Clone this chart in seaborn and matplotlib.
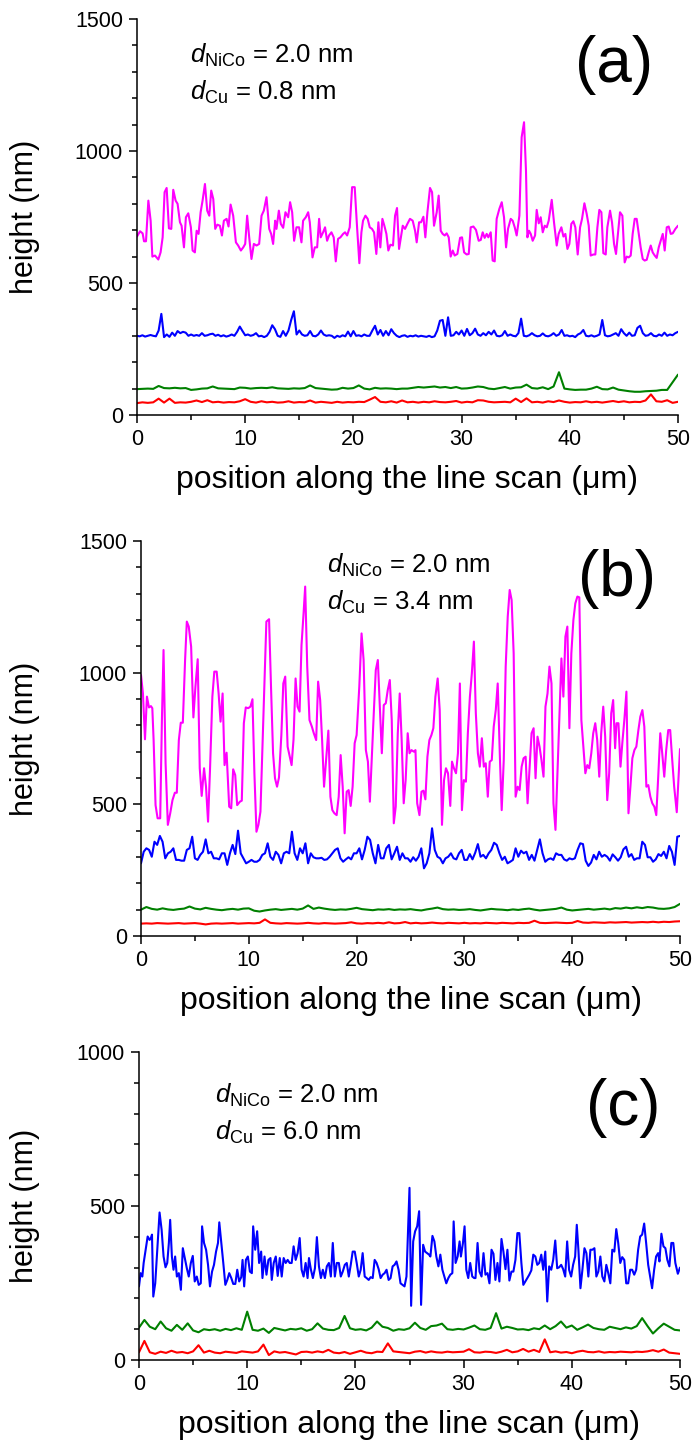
import numpy as np
import pandas as pd
import seaborn as sns
import matplotlib
matplotlib.use("Agg")
import matplotlib.pyplot as plt
from matplotlib.ticker import MultipleLocator

sns.set_theme(style="ticks")
plt.rcParams['font.family'] = ['Liberation Sans', 'DejaVu Sans']
plt.rcParams['mathtext.fontset'] = 'custom'
plt.rcParams['mathtext.rm'] = 'Liberation Sans'
plt.rcParams['mathtext.it'] = 'Liberation Sans:italic'
plt.rcParams['text.color'] = 'black'
plt.rcParams['axes.labelcolor'] = 'black'
plt.rcParams['xtick.color'] = 'black'
plt.rcParams['ytick.color'] = 'black'

# ---------------- panel (a) ----------------
a_mag_x = [0.00,0.28,0.52,0.65,0.83,1.05,1.26,1.42,1.66,1.97,2.18,2.37,2.55,2.74,2.95,3.17,3.35,3.57,3.75,3.97,
           4.12,4.34,4.52,4.74,4.98,5.14,5.35,5.51,5.69,5.88,6.06,6.28,6.49,6.68,6.86,7.05,7.23,7.42,7.66,7.85,
           8.03,8.28,8.46,8.65,8.89,9.14,9.35,9.60,9.82,10.00,10.18,10.37,10.58,10.80,11.05,11.29,11.51,11.72,11.97,12.22,
           12.40,12.58,12.77,12.89,13.11,13.29,13.51,13.72,13.97,14.15,14.34,14.52,14.74,14.98,15.20,15.35,15.60,15.82,15.97,16.22,
           16.43,16.65,16.83,16.98,17.20,17.38,17.57,17.75,17.97,18.18,18.37,18.58,18.80,19.05,19.23,19.42,19.66,19.88,20.12,20.34,
           20.55,20.74,20.89,21.11,21.32,21.51,21.72,21.91,22.12,22.31,22.49,22.68,22.86,23.05,23.23,23.42,23.66,23.85,24.03,24.22,
           24.56,24.77,24.99,25.23,25.48,25.70,25.85,26.07,26.25,26.47,26.65,26.84,27.08,27.27,27.45,27.70,27.88,28.07,28.25,28.44,
           28.62,28.81,28.99,29.18,29.36,29.61,29.86,30.04,30.23,30.47,30.66,30.84,31.09,31.33,31.58,31.77,31.95,32.13,32.32,32.47,
           32.69,32.87,33.06,33.24,33.49,33.71,33.92,34.11,34.29,34.54,34.72,34.91,35.09,35.34,35.55,35.77,35.95,36.08,36.23,36.39,
           36.57,36.79,36.94,37.13,37.31,37.50,37.68,37.87,38.05,38.33,38.54,38.79,38.97,39.22,39.41,39.59,39.78,39.96,40.14,40.33,
           40.51,40.73,40.95,41.13,41.35,41.56,41.75,41.93,42.18,42.36,42.55,42.73,42.92,43.10,43.32,43.47,43.72,43.90,44.09,44.27,
           44.46,44.64,44.86,45.07,45.26,45.44,45.63,45.81,46.00,46.18,46.37,46.55,46.74,46.92,47.11,47.29,47.48,47.66,47.85,48.03,
           48.22,48.40,48.59,48.77,48.96,49.14,49.33,49.51,49.76,50.00]
a_mag_y = [676,696,688,658,658,812,736,600,604,589,616,673,844,860,707,705,853,812,800,730,
           717,635,749,764,711,623,616,698,686,768,812,875,774,755,850,818,705,721,717,680,
           736,743,714,797,755,654,642,623,635,648,755,673,591,648,642,648,755,774,825,705,
           686,648,736,705,774,724,709,768,749,806,768,660,711,711,654,736,749,768,730,597,
           635,635,743,673,692,711,660,680,692,673,582,667,673,686,692,680,711,863,863,711,
           575,692,736,755,743,711,705,692,610,730,635,743,717,686,623,645,642,755,784,629,
           717,705,724,743,736,698,654,730,730,751,673,768,860,844,717,768,831,698,686,680,
           688,673,600,623,604,610,671,673,616,608,610,711,714,701,660,663,692,671,686,673,
           692,585,582,743,781,806,749,635,705,743,736,711,680,755,1052,1109,926,673,698,686,
           660,680,777,726,749,692,717,711,736,815,730,642,686,711,676,686,629,648,724,734,
           711,608,711,743,802,762,717,604,608,608,711,777,768,613,608,711,774,730,648,610,
           692,768,755,578,600,597,604,686,743,743,686,635,591,585,588,616,642,616,604,595,
           635,660,686,623,711,714,686,688,705,717]

a_blue_y = [300,298,302,297,300,303,300,298,320,383,295,305,296,312,300,318,310,315,312,300,
            305,300,303,300,310,300,302,306,308,300,304,298,302,297,300,305,300,315,335,318,
            302,305,300,303,310,298,300,295,300,315,340,325,300,296,318,300,320,360,393,305,
            320,305,300,302,318,300,298,305,320,305,300,302,300,292,300,296,302,298,316,298,
            318,300,302,298,305,300,300,320,338,305,322,300,318,302,325,310,300,295,300,302,
            296,300,298,302,297,300,298,296,300,295,298,320,357,360,300,370,300,302,315,305,
            320,300,326,302,310,327,305,300,310,302,315,305,320,300,298,302,318,300,305,300,
            298,310,365,300,298,302,310,302,298,300,309,300,298,302,310,300,305,322,300,302,
            298,300,295,305,310,322,300,298,302,297,300,305,360,302,298,300,305,310,300,325,
            310,300,312,300,302,330,338,310,300,302,310,300,298,305,300,312,300,305,302,310,
            315]

a_green_y = [98,99,100,99,110,102,101,103,101,102,95,97,100,101,108,101,100,99,98,104,
             103,100,102,103,102,105,101,100,99,101,100,102,112,102,100,98,96,97,103,100,
             102,112,100,97,103,100,101,100,98,100,100,103,106,104,106,108,104,106,102,106,
             100,101,104,108,106,100,98,102,106,100,104,105,115,102,100,105,98,108,162,100,
             97,95,96,96,100,107,98,97,104,96,93,90,88,88,90,91,92,95,95,124,
             153]

a_red_y = [45,48,46,48,62,47,62,46,48,47,50,55,49,56,48,50,47,49,48,52,
           60,50,47,52,48,50,47,48,52,47,49,48,55,47,50,48,46,50,47,49,
           48,50,49,58,68,50,48,52,47,55,48,50,47,50,48,52,49,48,50,53,
           47,50,48,56,55,50,48,49,50,48,62,49,63,48,50,47,52,49,55,50,
           47,49,48,52,48,50,47,50,53,49,52,48,50,49,55,78,52,50,56,46,
           50]

# ---------------- panel (b) ----------------
b_mag_x = [0.00,0.18,0.37,0.55,0.74,0.92,1.05,1.17,1.35,1.54,1.78,1.94,2.09,2.28,2.49,2.71,2.92,3.14,3.32,3.51,
           3.69,3.88,4.09,4.25,4.43,4.65,4.86,5.05,5.26,5.45,5.63,5.85,6.03,6.22,6.40,6.62,6.80,7.02,7.20,7.38,
           7.57,7.75,7.94,8.18,8.37,8.55,8.74,8.92,9.17,9.35,9.54,9.72,9.94,10.15,10.34,10.52,10.71,10.89,11.08,11.26,
           11.45,11.63,11.88,12.06,12.25,12.43,12.62,12.80,13.02,13.20,13.38,13.60,13.78,13.97,14.15,14.34,14.52,14.71,14.89,15.08,
           15.23,15.42,15.63,15.85,16.03,16.25,16.43,16.62,16.80,16.98,17.17,17.38,17.57,17.75,17.94,18.15,18.34,18.52,18.71,18.89,
           19.08,19.26,19.45,19.63,19.82,20.00,20.25,20.46,20.65,20.86,21.05,21.23,21.42,21.60,21.78,21.97,22.15,22.34,22.52,22.71,
           22.89,23.08,23.26,23.45,23.63,23.82,24.00,24.18,24.37,24.55,24.74,24.91,25.09,25.31,25.46,25.62,25.83,26.02,26.20,26.38,
           26.57,26.75,26.94,27.12,27.31,27.52,27.71,27.92,28.11,28.29,28.48,28.69,28.85,29.03,29.22,29.40,29.58,29.77,29.95,30.14,
           30.32,30.51,30.69,30.88,31.06,31.25,31.43,31.62,31.80,31.98,32.17,32.35,32.54,32.72,32.91,33.09,33.31,33.46,33.65,33.83,
           34.02,34.20,34.38,34.57,34.75,34.94,35.12,35.31,35.49,35.68,35.86,36.05,36.23,36.42,36.60,36.78,36.97,37.15,37.34,37.52,
           37.71,37.89,38.08,38.26,38.45,38.63,38.82,39.00,39.18,39.37,39.55,39.74,39.92,40.11,40.29,40.48,40.66,40.85,41.03,41.22,
           41.40,41.58,41.77,41.95,42.14,42.32,42.51,42.69,42.88,43.06,43.25,43.43,43.62,43.80,43.98,44.11,44.29,44.48,44.66,44.85,
           45.03,45.22,45.40,45.58,45.77,45.95,46.14,46.32,46.51,46.69,46.88,47.06,47.25,47.43,47.62,47.80,47.98,48.17,48.35,48.54,
           48.72,48.91,49.09,49.28,49.46,49.70,50.00]
b_mag_y = [991,921,747,909,868,873,865,744,497,447,447,820,1086,656,422,466,516,544,544,744,
           810,810,1048,1194,1175,1099,830,947,1051,637,532,637,567,434,630,909,1004,1004,921,814,
           921,649,696,491,485,633,611,497,510,514,808,868,865,871,899,618,396,422,472,713,
           959,1194,1203,947,694,599,567,602,763,959,985,719,684,649,747,978,871,852,1105,1225,
           1327,1023,820,795,770,744,966,896,744,567,668,780,529,478,466,459,529,687,567,390,
           548,554,494,567,732,763,947,1149,1048,706,662,510,687,852,1010,1048,871,694,877,884,
           934,972,820,428,491,770,921,744,504,592,770,694,706,700,706,504,459,548,552,519,
           681,744,763,789,909,978,858,422,592,637,618,494,662,637,618,694,959,478,592,586,
           770,909,997,1118,846,694,643,751,643,656,529,662,668,795,858,959,656,478,668,1023,
           1213,1314,1276,1073,529,567,554,643,675,681,504,643,770,789,599,757,719,668,605,871,
           921,1023,959,504,403,618,846,1054,909,1137,1175,789,1073,1200,1263,1289,1286,820,719,618,
           649,637,694,770,808,744,605,770,871,757,516,618,846,896,713,808,808,643,738,827,
           928,466,567,675,706,719,782,833,858,795,567,573,529,504,491,459,605,770,694,605,
           706,782,782,668,567,470,710]

b_blue_y = [276,320,333,327,301,358,346,380,358,295,314,320,333,289,289,286,286,327,333,377,
            295,289,308,320,367,314,320,295,295,291,314,314,270,314,346,311,400,314,295,276,
            282,289,282,282,289,308,314,352,301,289,320,308,276,314,320,314,396,314,289,333,
            314,352,276,314,299,295,295,297,289,291,301,314,327,333,295,282,291,299,291,314,
            314,333,291,327,377,365,314,276,346,295,295,333,346,291,314,339,289,314,295,295,
            282,299,286,301,333,257,276,314,409,327,301,295,276,295,301,314,295,291,314,327,
            289,289,311,291,316,349,301,308,295,314,327,354,346,314,289,301,276,282,289,333,
            301,324,314,320,289,308,286,327,367,314,282,291,295,289,314,308,308,291,286,295,
            291,295,327,352,349,286,266,279,308,291,320,301,308,301,286,310,299,286,299,329,
            339,301,311,289,295,295,358,346,299,299,282,291,311,304,320,295,342,320,270,377,
            380]

b_green_y = [100,110,103,100,105,101,99,102,104,112,104,101,107,103,100,98,101,103,100,104,
             105,96,93,97,100,102,99,101,103,100,104,116,103,108,104,101,99,101,100,103,
             107,102,100,98,101,100,102,99,101,100,102,99,97,101,104,108,102,100,101,99,
             100,102,99,97,100,103,101,100,98,101,99,102,104,100,97,99,101,103,108,100,
             97,99,101,103,100,102,104,101,106,104,108,105,109,106,110,108,104,103,105,110,
             122]

b_red_y = [47,48,47,49,48,47,48,49,47,48,49,47,44,47,48,47,48,49,47,48,
           49,48,50,63,50,48,47,49,48,47,48,50,48,47,49,48,47,48,49,52,
           48,47,49,48,50,48,52,48,49,53,48,50,48,49,51,49,48,50,49,48,
           50,48,49,48,50,49,48,50,49,48,50,49,50,58,50,49,50,51,50,49,
           50,57,51,50,52,51,50,52,51,52,53,51,52,53,52,54,52,54,53,55,
           56]

# ---------------- panel (c) ----------------
c_blue_x = [0.00,0.15,0.31,0.43,0.61,0.80,0.98,1.10,1.20,1.32,1.50,1.69,1.90,2.09,2.27,2.45,2.61,2.76,2.88,3.04,
            3.19,3.34,3.50,3.68,3.87,4.05,4.23,4.42,4.60,4.79,4.97,5.15,5.34,5.52,5.71,5.83,6.01,6.20,6.38,6.56,
            6.75,6.93,7.12,7.30,7.42,7.61,7.79,7.98,8.16,8.34,8.53,8.71,8.90,9.08,9.26,9.45,9.57,9.72,9.88,10.06,
            10.25,10.43,10.55,10.74,10.92,11.10,11.29,11.41,11.60,11.78,11.96,12.15,12.27,12.45,12.64,12.82,13.01,13.19,13.37,13.56,
            13.74,13.93,14.11,14.29,14.48,14.66,14.85,15.03,15.21,15.40,15.58,15.71,15.89,16.07,16.26,16.44,16.63,16.81,16.99,17.18,
            17.36,17.55,17.73,17.91,18.10,18.28,18.47,18.65,18.83,19.02,19.20,19.39,19.57,19.75,19.94,20.12,20.31,20.49,20.67,20.86,
            21.04,21.23,21.41,21.60,21.78,21.96,22.15,22.33,22.52,22.70,22.88,23.07,23.25,23.44,23.62,23.80,23.99,24.17,24.36,24.54,
            24.72,25.00,25.15,25.34,25.52,25.71,25.89,26.07,26.26,26.44,26.63,26.81,26.93,27.12,27.30,27.48,27.67,27.85,28.04,28.22,
            28.40,28.59,28.77,28.96,29.08,29.26,29.45,29.63,29.75,29.94,30.09,30.25,30.43,30.61,30.80,30.98,31.10,31.29,31.47,31.66,
            31.84,32.02,32.21,32.39,32.58,32.76,32.94,33.13,33.31,33.50,33.68,33.87,34.05,34.23,34.42,34.60,34.79,34.97,35.15,35.34,
            35.52,35.71,35.89,36.07,36.26,36.44,36.63,36.81,36.99,37.18,37.36,37.55,37.73,37.91,38.10,38.28,38.47,38.65,38.83,39.02,
            39.20,39.39,39.57,39.75,39.94,40.12,40.31,40.46,40.61,40.80,40.98,41.17,41.35,41.53,41.72,41.90,42.09,42.27,42.45,42.64,
            42.82,43.01,43.19,43.37,43.56,43.74,43.93,44.11,44.29,44.48,44.66,44.85,45.03,45.21,45.40,45.58,45.77,45.95,46.13,46.32,
            46.50,46.69,46.87,47.06,47.24,47.42,47.61,47.79,47.98,48.10,48.28,48.47,48.65,48.83,49.02,49.20,49.38,49.57,49.80,50.00]
c_blue_y = [239,282,271,315,358,401,390,396,407,206,249,358,479,423,336,301,315,380,455,336,
            293,336,271,282,228,363,331,298,271,315,338,255,271,244,249,434,380,358,309,239,
            287,309,352,380,447,380,315,244,260,282,266,247,247,293,255,269,325,239,325,336,
            287,282,434,358,418,315,352,266,336,277,325,331,260,315,336,273,331,271,331,315,
            325,315,315,369,325,347,396,293,271,315,266,331,293,266,298,399,304,266,293,266,
            304,315,271,380,271,315,315,271,287,309,315,271,309,352,352,315,271,293,347,271,
            266,260,269,266,325,315,295,266,277,282,293,260,266,304,309,320,293,249,244,239,
            271,559,176,385,418,434,483,179,374,352,347,342,336,403,385,336,304,342,293,271,
            249,266,277,282,450,315,336,385,336,380,434,293,266,315,271,266,266,380,287,271,
            347,277,282,249,358,345,260,315,255,393,352,295,358,258,287,287,325,412,412,315,
            244,255,266,277,291,342,336,309,315,342,293,352,190,304,293,325,388,298,301,309,
            295,271,385,293,271,309,336,439,358,233,293,363,347,271,358,358,363,271,287,336,
            271,255,309,282,249,358,352,425,380,315,334,325,249,249,293,293,277,293,358,401,
            407,443,380,309,271,233,293,336,347,320,410,369,363,325,304,380,380,315,280,300]

c_green_y = [105,130,108,100,125,103,95,114,98,119,96,90,100,97,100,95,101,97,103,98,
             157,98,95,102,88,104,100,96,101,99,103,95,100,119,102,98,97,104,143,103,
             98,100,96,105,125,108,104,95,100,98,103,121,104,98,110,112,118,100,98,101,
             99,105,112,100,98,104,152,102,108,104,99,100,97,103,100,112,100,110,125,105,
             112,98,106,115,104,100,98,108,104,100,106,102,110,136,110,86,103,118,108,98,
             96]

c_red_y = [25,62,25,20,27,23,30,24,26,22,28,48,24,30,24,22,27,25,23,28,
           26,24,28,50,16,28,24,26,22,18,26,27,24,28,25,33,24,22,26,20,
           25,30,24,22,27,26,54,28,26,24,22,27,29,24,28,25,24,27,25,26,
           27,35,25,24,27,26,23,27,33,25,28,36,27,33,26,67,25,28,24,26,
           22,27,30,26,25,28,24,26,25,27,26,25,27,26,28,32,27,34,24,22,
           20]

MAG, BLUE, GREEN, RED = '#FF00FF', '#0000FF', '#008000', '#FF0000'
W, H = 694, 1443

fig = plt.figure(figsize=(W / 100, H / 100), dpi=100)


def px_axes(left, top, right, bottom):
    return fig.add_axes([left / W, 1 - bottom / H, (right - left) / W, (bottom - top) / H])


def grid(vals):
    return np.linspace(0, 50, len(vals))


panels = [
    dict(box=(137, 19, 678, 415), ymax=1500,
         lines=[(grid(a_red_y), a_red_y, RED), (grid(a_green_y), a_green_y, GREEN),
                (grid(a_blue_y), a_blue_y, BLUE), (a_mag_x, a_mag_y, MAG)],
         txt=(190, 63, 100), cu='0.8', lab='(a)', labxy=(653, 82)),
    dict(box=(141, 541, 680, 936), ymax=1500,
         lines=[(grid(b_red_y), b_red_y, RED), (grid(b_green_y), b_green_y, GREEN),
                (grid(b_blue_y), b_blue_y, BLUE), (b_mag_x, b_mag_y, MAG)],
         txt=(327, 573, 610), cu='3.4', lab='(b)', labxy=(656, 596)),
    dict(box=(139, 1052, 680, 1360), ymax=1000,
         lines=[(grid(c_red_y), c_red_y, RED), (grid(c_green_y), c_green_y, GREEN),
                (c_blue_x, c_blue_y, BLUE)],
         txt=(215, 1103, 1140), cu='6.0', lab='(c)', labxy=(660, 1125)),
]

for p in panels:
    l, t, r, b = p['box']
    ax = px_axes(l, t, r, b)
    for xs, ys, col in p['lines']:
        df = pd.DataFrame({'x': np.asarray(xs, float), 'y': np.asarray(ys, float)})
        sns.lineplot(data=df, x='x', y='y', ax=ax, color=col, lw=1.5,
                     estimator=None, sort=False)
    ax.set_xlim(0, 50)
    ax.set_ylim(0, p['ymax'])
    ax.set_xticks(np.arange(0, 51, 10))
    ax.set_yticks(np.arange(0, p['ymax'] + 1, 500))
    ax.xaxis.set_minor_locator(MultipleLocator(5))
    ax.yaxis.set_minor_locator(MultipleLocator(100))
    ax.tick_params(which='major', direction='out', length=6, width=1.1,
                   labelsize=15.5, colors='black', pad=4)
    ax.tick_params(which='minor', direction='out', length=3.5, width=1.1, colors='black')
    for s in ['top', 'right']:
        ax.spines[s].set_visible(False)
    for s in ['left', 'bottom']:
        ax.spines[s].set_linewidth(1.1)
        ax.spines[s].set_color('black')
    ax.set_xlabel('position along the line scan (\u03bcm)', fontsize=23, color='black')
    ax.set_ylabel('height (nm)', fontsize=22, color='black')
    ax.xaxis.label.set_va('center')
    ax.yaxis.label.set_va('center')
    ax.xaxis.set_label_coords(0.5, -65 / (b - t))
    ax.yaxis.set_label_coords((25 - l) / (r - l), 0.5)
    ax.set_facecolor('white')

    tx, ty1, ty2 = p['txt']
    fig.text(tx / W, 1 - ty1 / H, r'$d_{\mathrm{NiCo}}$ = 2.0 nm', fontsize=18.5,
             va='baseline', ha='left', color='black')
    fig.text(tx / W, 1 - ty2 / H, r'$d_{\mathrm{Cu}}$ = ' + p['cu'] + ' nm', fontsize=18.5,
             va='baseline', ha='left', color='black')
    lx, ly = p['labxy']
    fig.text(lx / W, 1 - ly / H, p['lab'], fontsize=46, va='baseline', ha='right', color='black')

fig.savefig('out.png', dpi=100, facecolor='white')
